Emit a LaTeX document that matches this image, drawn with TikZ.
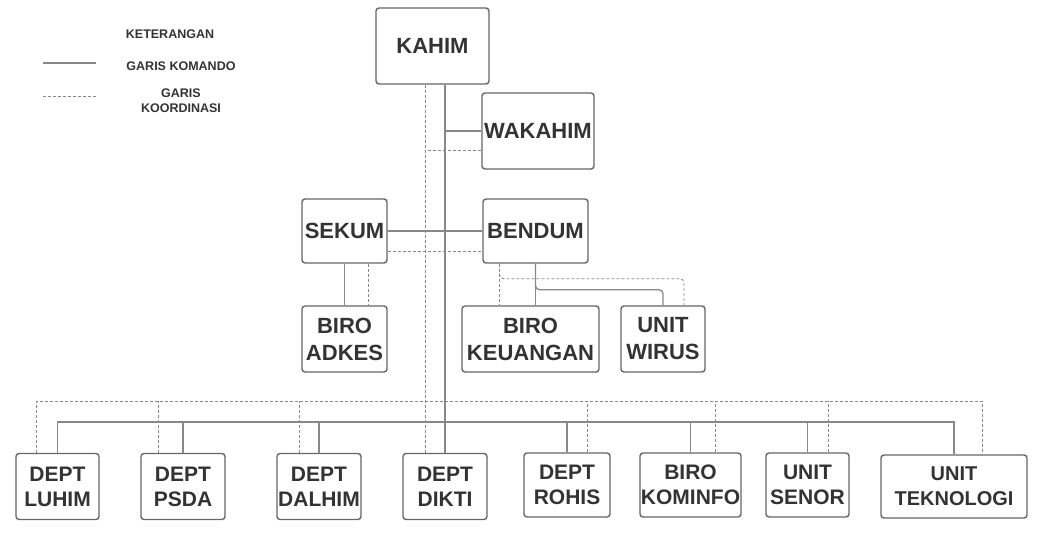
\documentclass[tikz,border=0pt]{standalone}
\usepackage{fontspec}
\setmainfont{Liberation Sans}
\usetikzlibrary{positioning}
\definecolor{txt}{HTML}{333333}
\definecolor{edge}{HTML}{666666}
\definecolor{link}{HTML}{888888}
\tikzset{
	cmd/.style={draw=link, line width=1.3pt},
	crd/.style={draw=link, line width=0.9pt, dash pattern=on 3pt off 2pt}
}

\begin{document}
\begin{tikzpicture}[x=1pt, y=-1pt,
				box/.style={
					draw=edge,
					rectangle,
					rounded corners=3pt,
					align=center,
					inner sep=0pt,
					line width=1.4pt,
					text=txt,
					font=\bfseries\fontsize{22}{27}\selectfont
				},
				low/.style={box, minimum height=66, font=\bfseries\fontsize{21}{25}\selectfont},
				note/.style={text=txt, align=center, font=\bfseries\fontsize{12.5}{15}\selectfont}
				]
				
				\useasboundingbox (0,0) rectangle (1050,533);
				
				% legend
				\node[note] (ket) at (170,34.5) {KETERANGAN};
				\node[note] (kmd) at (181,66) {GARIS KOMANDO};
				\node[note] (krd) at (181,100.5) {GARIS\\KOORDINASI};
				\coordinate (k1) at (43,63);
				\coordinate (k2) at (96,63);
				\coordinate (k3) at (43,96);
				\coordinate (k4) at (96,96);
				\draw[cmd, line width=1.1pt] (k1) -- (k2);
				\draw[crd] (k3) -- (k4);
				
				% upper part
				\node[box, minimum width=113, minimum height=76] (kahim) at (432.5,46) {KAHIM};
				\node[box, minimum width=112, minimum height=76] (wakahim) at (538,131) {WAKAHIM};
				\node[box, minimum width=85, minimum height=64] (sekum) at (344.5,231) {SEKUM};
				\node[box, minimum width=105, minimum height=64] (bendum) at (535.5,231) {BENDUM};
				\node[box, minimum width=85, minimum height=66] (adkes) at (344.5,339) {BIRO\\ADKES};
				\node[box, minimum width=137, minimum height=66] (keuangan) at (530.5,339) {BIRO\\KEUANGAN};
				\node[box, minimum width=84, minimum height=66] (wirus) at (663,339) {UNIT\\WIRUS};
				
				% bottom row
				\node[low, minimum width=83] (luhim) at (57.5,486.5) {DEPT\\LUHIM};
				\node[low, minimum width=84] (psda) at (183,486.5) {DEPT\\PSDA};
				\node[low, minimum width=84] (dalhim) at (319,486.5) {DEPT\\DALHIM};
				\node[low, minimum width=84] (dikti) at (445,486.5) {DEPT\\DIKTI};
				\node[low, minimum width=86, minimum height=64] (rohis) at (567,485) {DEPT\\ROHIS};
				\node[low, minimum width=101, minimum height=64] (kominfo) at (690.5,485) {BIRO\\KOMINFO};
				\node[low, minimum width=83, minimum height=64] (senor) at (807.5,485) {UNIT\\SENOR};
				\node[low, minimum width=146, minimum height=63, font=\bfseries\fontsize{20}{25}\selectfont] (tekno) at (954,486.5) {UNIT\\TEKNOLOGI};
				
				% kahim down to dikti
				\coordinate (dk) at ([xshift=-20pt]dikti.north);
				\draw[cmd] (kahim.south -| dikti.north) -- (dikti.north);
				\draw[crd] (dk |- kahim.south) -- (dk);
				
				\coordinate (wd) at ([yshift=-19pt]wakahim.west);
				\draw[cmd] (wakahim.west) -- (wakahim.west -| dikti.north);
				\draw[crd] (wd) -- (wd -| dk);
				
				\draw[cmd] (sekum) -- (bendum);
				\draw[crd] ([yshift=-20pt]sekum.east) -- ([yshift=-20pt]bendum.west);
				
				\draw[cmd] (sekum) -- (adkes);
				\draw[crd] ([xshift=24pt]sekum.south) -- ([xshift=24pt]adkes.north);
				
				\coordinate (bd) at ([xshift=-36pt]bendum.south);
				\draw[cmd] (bendum.south) -- (bendum.south |- keuangan.north);
				\draw[crd] (bd) -- (bd |- keuangan.north);
				\draw[cmd, rounded corners=4pt] (bendum.south) -- ++(0,26) -| (wirus.north);
				\draw[crd, rounded corners=4pt] (bd) -- ++(0,15) -| ([xshift=21pt]wirus.north);
				
				% bus lines
				\coordinate (sbus) at (0,422);
				\coordinate (dbus) at (0,401);
				\coordinate (dl) at ([xshift=-21pt]luhim.north);
				\coordinate (dt) at ([xshift=28pt]tekno.north);
				\draw[cmd] (luhim.north) |- (sbus -| tekno.north) -- (tekno.north);
				\draw[crd] (dl) |- (dbus -| dt) -- (dt);
				\foreach \n in {psda, dalhim, rohis, kominfo, senor}
					\draw[cmd] (\n.north) -- (\n.north |- sbus);
				\foreach \n/\d in {psda/-25, dalhim/-20, rohis/20, kominfo/25, senor/21}{
					\coordinate (t) at ([xshift=\d pt]\n.north);
					\draw[crd] (t) -- (t |- dbus);
				}
				
			\end{tikzpicture}
\end{document}
